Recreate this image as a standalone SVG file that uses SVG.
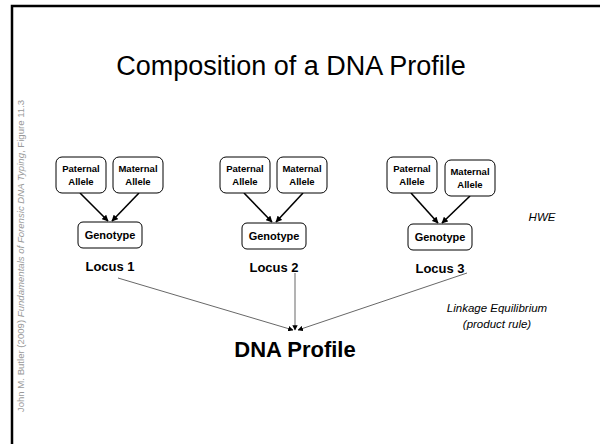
<svg xmlns="http://www.w3.org/2000/svg" width="600" height="444" viewBox="0 0 600 444">
<defs>
<style>
.box{fill:#fff;stroke:#000;stroke-width:1}
.bt{font-family:"Liberation Sans",Arial,sans-serif;font-weight:bold;font-size:9.5px;text-anchor:middle;fill:#000}
.gt{font-family:"Liberation Sans",Arial,sans-serif;font-weight:bold;font-size:11px;text-anchor:middle;fill:#000}
.lt{font-family:"Liberation Sans",Arial,sans-serif;font-weight:bold;font-size:13px;text-anchor:middle;fill:#000}
.it{font-family:"Liberation Sans",Arial,sans-serif;font-style:italic;font-size:11.5px;text-anchor:middle;fill:#000}
.thick{stroke:#000;stroke-width:1.6;fill:none;marker-end:url(#ah)}
.thin{stroke:#000;stroke-width:0.6;fill:none;marker-end:url(#ah2)}
</style>
<marker id="ah" viewBox="0 0 10 10" refX="9" refY="5" markerWidth="4" markerHeight="4" orient="auto" markerUnits="strokeWidth"><path d="M0,0 L10,5 L0,10 z" fill="#000"/></marker>
<marker id="ah2" viewBox="0 0 10 10" refX="9" refY="5" markerWidth="9" markerHeight="9" orient="auto" markerUnits="strokeWidth"><path d="M0,0 L10,5 L0,10 z" fill="#000"/></marker>
</defs>
<rect width="600" height="444" fill="#fff"/>
<g id="frame" fill="none" stroke="#000" stroke-width="2.5"><path d="M12,444 V6 H600"/></g>
<text id="credit" transform="translate(24,256) rotate(-90)" font-family="'Liberation Sans',Arial,sans-serif" font-size="9.6" fill="#999" text-anchor="middle">John M. Butler (2009) <tspan font-style="italic">Fundamentals of Forensic DNA Typing</tspan>, Figure 11.3</text>
<text id="title" x="291" y="75" font-family="'Liberation Sans',Arial,sans-serif" font-size="27" text-anchor="middle">Composition of a DNA Profile</text>

<g id="connectors">
<line class="thick" x1="80" y1="193" x2="108" y2="221"/>
<line class="thick" x1="139" y1="193" x2="112" y2="221"/>
<line class="thick" x1="244" y1="193" x2="272" y2="222"/>
<line class="thick" x1="303" y1="193" x2="276" y2="222"/>
<line class="thick" x1="411" y1="193" x2="438" y2="223"/>
<line class="thick" x1="470" y1="196" x2="442" y2="223"/>
<line class="thin" x1="118" y1="278" x2="293" y2="330"/>
<line class="thin" x1="295" y1="273" x2="295" y2="330"/>
<line class="thin" x1="467" y1="273" x2="298" y2="330"/>
</g>

<g id="pat1"><rect class="box" x="56" y="157" width="50" height="36" rx="6"/><text class="bt" x="81" y="172">Paternal</text><text class="bt" x="81" y="185">Allele</text></g>
<g id="mat1"><rect class="box" x="113" y="157" width="50" height="36" rx="6"/><text class="bt" x="138" y="172">Maternal</text><text class="bt" x="138" y="185">Allele</text></g>
<g id="geno1"><rect class="box" x="78" y="222" width="64" height="26" rx="5"/><text class="gt" x="110" y="239">Genotype</text></g>
<text id="locus1" class="lt" x="110" y="271">Locus 1</text>

<g id="pat2"><rect class="box" x="220" y="157" width="50" height="36" rx="6"/><text class="bt" x="245" y="172">Paternal</text><text class="bt" x="245" y="185">Allele</text></g>
<g id="mat2"><rect class="box" x="277" y="157" width="50" height="36" rx="6"/><text class="bt" x="302" y="172">Maternal</text><text class="bt" x="302" y="185">Allele</text></g>
<g id="geno2"><rect class="box" x="242" y="223" width="64" height="26" rx="5"/><text class="gt" x="274" y="240">Genotype</text></g>
<text id="locus2" class="lt" x="274" y="272">Locus 2</text>

<g id="pat3"><rect class="box" x="387" y="157" width="50" height="36" rx="6"/><text class="bt" x="412" y="172">Paternal</text><text class="bt" x="412" y="185">Allele</text></g>
<g id="mat3"><rect class="box" x="445" y="160" width="50" height="36" rx="6"/><text class="bt" x="470" y="175">Maternal</text><text class="bt" x="470" y="188">Allele</text></g>
<g id="geno3"><rect class="box" x="408" y="224" width="64" height="26" rx="5"/><text class="gt" x="440" y="241">Genotype</text></g>
<text id="locus3" class="lt" x="440" y="273">Locus 3</text>

<text id="hwe" class="it" x="542" y="221" font-size="12">HWE</text>
<text id="le" class="it" x="497" y="312">Linkage Equilibrium</text>
<text class="it" x="497" y="328">(product rule)</text>
<text id="dna" x="295" y="357" font-family="'Liberation Sans',Arial,sans-serif" font-weight="bold" font-size="22" text-anchor="middle">DNA Profile</text>
</svg>
